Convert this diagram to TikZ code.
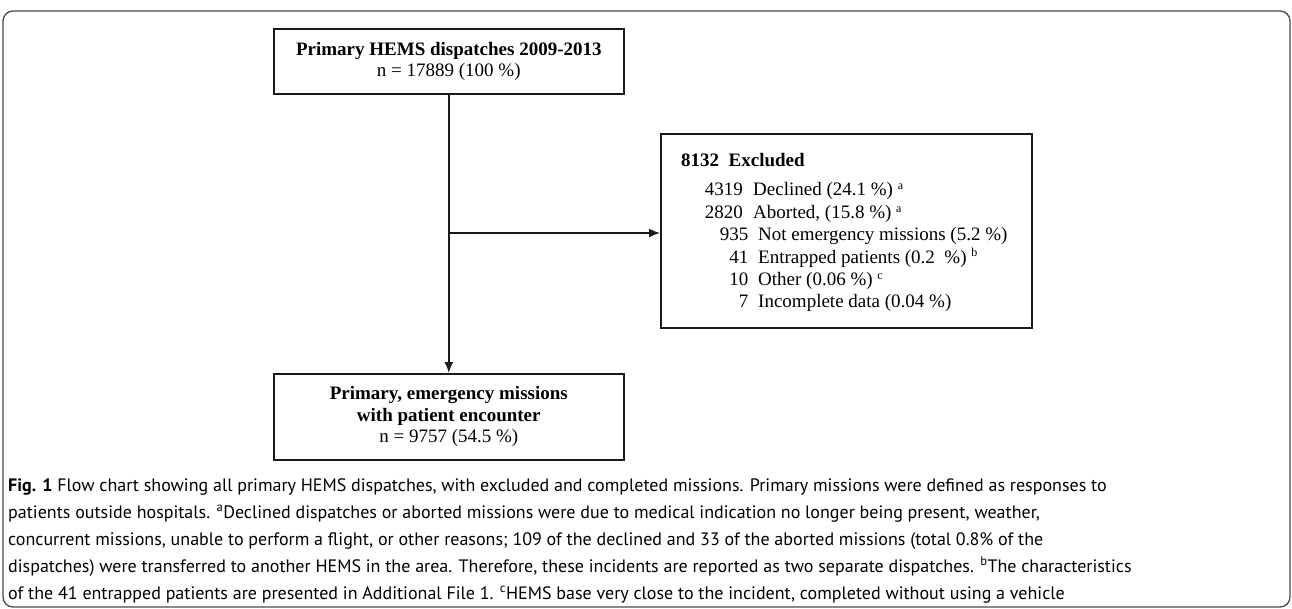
\documentclass[tikz,border=0pt]{standalone}
\usepackage{fontspec}
\setmainfont{Liberation Serif}
\newfontfamily\capfont{PT Sans}
\usetikzlibrary{arrows.meta}
\definecolor{ink}{HTML}{1A1A1A}
\definecolor{framegray}{HTML}{4A4A4A}
\begin{document}
\begin{tikzpicture}[x=1pt,y=-1pt,
  boxnode/.style={draw=ink, line width=1.6pt, inner sep=0pt, anchor=north west, align=center,
    font=\fontsize{19}{21.5}\selectfont},
  flowarrow/.style={draw=ink, line width=1.6pt, -{Latex[length=11pt,width=9pt]}},
  numtxt/.style={anchor=base east, inner sep=0pt, font=\fontsize{19}{22}\selectfont},
  labtxt/.style={anchor=base west, inner sep=0pt, font=\fontsize{19}{22}\selectfont},
  captxt/.style={anchor=base west, inner sep=0pt, font=\capfont\fontsize{18}{20}\selectfont}
]
\useasboundingbox (0,0) rectangle (1292,609);
\draw[framegray, line width=1.3pt, rounded corners=10pt] (3,11) rectangle (1290,607);

\node[boxnode, minimum width=350pt, minimum height=65pt] (top) at (273,28)
  {\textbf{Primary HEMS dispatches 2009-2013}\\n = 17889 (100 \%)};
\node[boxnode, minimum width=350pt, minimum height=86pt] (bot) at (273,373)
  {\textbf{Primary, emergency missions}\\\textbf{with patient encounter}\\n = 9757 (54.5 \%)};
\node[boxnode, minimum width=371pt, minimum height=194pt] (ex) at (660,133) {};

\draw[flowarrow] (top.south) -- (bot.north);
\coordinate (j) at (448,233);
\draw[flowarrow] (j) -- (ex.west |- j);

\node[labtxt] (exh) at (681,167) {\textbf{8132\ \ Excluded}};
\node[numtxt] (n1) at (743,196) {4319};
\node[labtxt] (l1) at (753,196) {Declined (24.1 \%) \textsuperscript{\fontsize{12}{12}\selectfont a}};
\node[numtxt] (n2) at (743,218.4) {2820};
\node[labtxt] (l2) at (753,218.4) {Aborted, (15.8 \%) \textsuperscript{\fontsize{12}{12}\selectfont a}};
\node[numtxt] (n3) at (748.5,240.8) {935};
\node[labtxt] (l3) at (758,240.8) {Not emergency missions (5.2 \%)};
\node[numtxt] (n4) at (748.5,263.2) {41};
\node[labtxt] (l4) at (758,263.2) {Entrapped patients (0.2\ \ \%) \textsuperscript{\fontsize{12}{12}\selectfont b}};
\node[numtxt] (n5) at (748.5,285.6) {10};
\node[labtxt] (l5) at (758,285.6) {Other (0.06 \%) \textsuperscript{\fontsize{12}{12}\selectfont c}};
\node[numtxt] (n6) at (748.5,308) {7};
\node[labtxt] (l6) at (758,308) {Incomplete data (0.04 \%)};

\node[captxt] (c1) at (8,491) {\textbf{Fig. 1} Flow chart showing all primary HEMS dispatches, with excluded and completed missions. Primary missions were defined as responses to};
\node[captxt] (c2) at (8,518) {patients outside hospitals. \textsuperscript{a}Declined dispatches or aborted missions were due to medical indication no longer being present, weather,};
\node[captxt] (c3) at (8,545) {concurrent missions, unable to perform a flight, or other reasons; 109 of the declined and 33 of the aborted missions (total 0.8\% of the};
\node[captxt] (c4) at (8,572) {dispatches) were transferred to another HEMS in the area. Therefore, these incidents are reported as two separate dispatches. \textsuperscript{b}The characteristics};
\node[captxt] (c5) at (8,599) {of the 41 entrapped patients are presented in Additional File 1. \textsuperscript{c}HEMS base very close to the incident, completed without using a vehicle};
\end{tikzpicture}
\end{document}
